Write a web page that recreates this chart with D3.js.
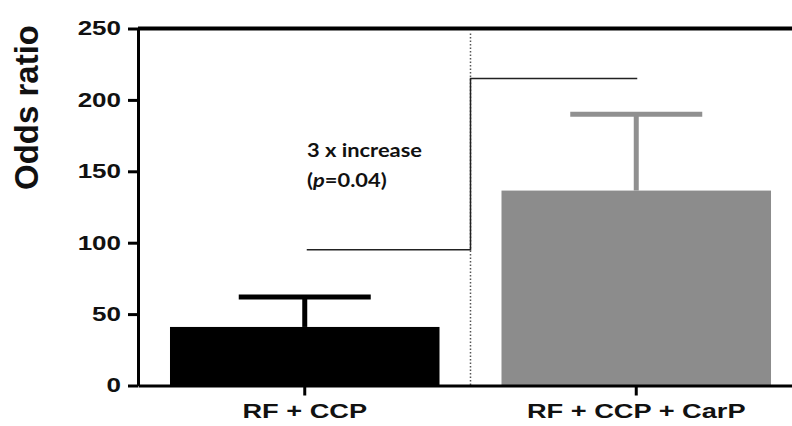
<!DOCTYPE html>
<html>
<head>
<meta charset="utf-8">
<script src="https://cdn.jsdelivr.net/npm/d3@7"></script>
<style>
  body { margin: 0; background: #fff; }
</style>
</head>
<body>
<div id="chart"></div>
<script>
// values
const categories = ["RF + CCP", "RF + CCP + CarP"];
const oddsRatio = [41, 136.5];
const errorTop = [62, 190];
const barColors = ["#000000", "#8c8c8c"];
const errorColors = ["#000000", "#909090"];
const yTicks = [0, 50, 100, 150, 200, 250];
const bracketFrom = 95, bracketTo = 215;

const width = 792, height = 426;
const axisX = 138, axisBottomY = 385.5, axisTopY = 28.5;
// the original lettering is stretched sideways
const yTickStretch = 1.3, xTickStretch = 1.36;

const svg = d3.select("#chart")
  .append("svg")
  .attr("width", width)
  .attr("height", height)
  .style("font-family", "'Liberation Sans', Arial, sans-serif");

const x = d3.scaleBand()
  .domain(categories)
  .range([axisX, 803])
  .paddingInner(0.187)
  .paddingOuter(0.0965);

const y = d3.scaleLinear()
  .domain([0, 250])
  .range([axisBottomY, axisTopY]);

// bars
svg.append("g")
  .selectAll("rect")
  .data(categories)
  .join("rect")
    .attr("x", d => x(d))
    .attr("y", (d, i) => y(oddsRatio[i]))
    .attr("width", x.bandwidth())
    .attr("height", (d, i) => y(0) - y(oddsRatio[i]))
    .attr("fill", (d, i) => barColors[i]);

// error bars (upper only)
const err = svg.append("g");
categories.forEach((c, i) => {
  const cx = x(c) + x.bandwidth() / 2;
  err.append("line")
    .attr("x1", cx).attr("x2", cx)
    .attr("y1", y(oddsRatio[i])).attr("y2", y(errorTop[i]))
    .attr("stroke", errorColors[i]).attr("stroke-width", 5);
  err.append("line")
    .attr("x1", cx - 66).attr("x2", cx + 66)
    .attr("y1", y(errorTop[i])).attr("y2", y(errorTop[i]))
    .attr("stroke", errorColors[i]).attr("stroke-width", 5);
});

// dotted divider between the two groups
const divX = x(categories[0]) + x.bandwidth() + (x.step() - x.bandwidth()) / 2;
svg.append("line")
  .attr("x1", divX).attr("x2", divX)
  .attr("y1", y(250) + 5).attr("y2", y(0))
  .attr("stroke", "#555")
  .attr("stroke-width", 1.5)
  .attr("stroke-dasharray", "1.5,2");

// significance bracket
const c0 = x(categories[0]) + x.bandwidth() / 2 + 2;
const c1 = x(categories[1]) + x.bandwidth() / 2 + 1;
svg.append("path")
  .attr("d", `M${c0},${y(bracketFrom)}H${divX}V${y(bracketTo)}H${c1}`)
  .attr("fill", "none")
  .attr("stroke", "#222")
  .attr("stroke-width", 1.5);

// annotation
const note = svg.append("text")
  .attr("font-family", "Lato, 'Open Sans', sans-serif")
  .attr("font-weight", 700)
  .attr("font-size", 19)
  .attr("fill", "#111")
  .attr("transform", "translate(307,0) scale(1.15,1)");
note.append("tspan").attr("x", 0).attr("y", 157).text("3 x increase");
const l2 = note.append("tspan").attr("x", 0).attr("y", 187);
l2.append("tspan").text("(");
l2.append("tspan").attr("font-style", "italic").text("p");
l2.append("tspan").text("=0.04)");

// top frame line
svg.append("line")
  .attr("x1", axisX).attr("x2", width)
  .attr("y1", y(250)).attr("y2", y(250))
  .attr("stroke", "#000").attr("stroke-width", 4);

// y axis
svg.append("g")
  .attr("transform", `translate(${axisX},0)`)
  .call(d3.axisLeft(y).tickValues(yTicks).tickSize(10).tickSizeOuter(0))
  .call(g => g.selectAll("path, line").attr("stroke", "#000").attr("stroke-width", 3))
  .call(g => g.selectAll("text")
    .attr("font-size", 20)
    .attr("font-weight", "bold")
    .attr("fill", "#111")
    .attr("font-family", "'Liberation Sans', Arial, sans-serif")
    .attr("x", -17 / yTickStretch)
    .attr("transform", `scale(${yTickStretch},1)`));

// x axis
svg.append("g")
  .attr("transform", `translate(0,${axisBottomY})`)
  .call(d3.axisBottom(x).tickSize(10).tickSizeOuter(0).tickPadding(8))
  .call(g => g.selectAll("path, line").attr("stroke", "#000").attr("stroke-width", 3))
  .call(g => g.selectAll("text")
    .attr("font-size", 20)
    .attr("font-weight", "bold")
    .attr("fill", "#111")
    .attr("font-family", "'Liberation Sans', Arial, sans-serif")
    .attr("transform", `scale(${xTickStretch},1)`));

// y axis title
svg.append("text")
  .attr("transform", "translate(38,107.5) rotate(-90)")
  .attr("text-anchor", "middle")
  .attr("font-size", 33)
  .attr("font-weight", "bold")
  .attr("fill", "#111")
  .text("Odds ratio");
</script>
</body>
</html>
